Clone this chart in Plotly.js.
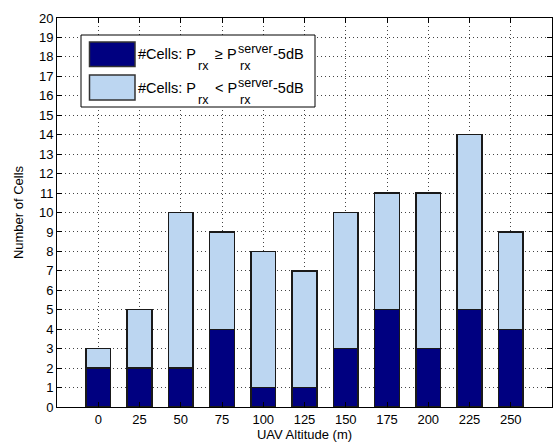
<!DOCTYPE html>
<html>
<head>
<meta charset="utf-8">
<script src="https://cdn.plot.ly/plotly-3.0.1.min.js"></script>
<style>html,body{margin:0;padding:0;background:#fff;}#chart{width:553px;height:448px;}</style>
</head>
<body>
<div id="chart"></div>
<script>
// Data
const altitudes = [0, 25, 50, 75, 100, 125, 150, 175, 200, 225, 250];
const strongCells = [2, 2, 2, 4, 1, 1, 3, 5, 3, 5, 4];       // Prx >= Prx_server - 5dB
const weakCells   = [1, 3, 8, 5, 7, 6, 7, 6, 8, 9, 5];       // Prx <  Prx_server - 5dB
const yTicks = [0,1,2,3,4,5,6,7,8,9,10,11,12,13,14,15,16,17,18,19,20];
const legendRelations = ['\u2265', '<'];

const W = 553, H = 448;
const M = {l: 57, r: 1, t: 18, b: 41};
const pw = W - M.l - M.r, ph = H - M.t - M.b;
const px = x => (x - M.l) / pw;
const py = y => (H - M.b - y) / ph;

const darkColor = '#000080';
const lightColor = '#bcd6f1';
const font = {family: 'Liberation Sans, Arial, sans-serif', size: 13, color: '#000'};
const lfont = {family: 'Liberation Sans, Arial, sans-serif', size: 14.5, color: '#000'};
const sfont = {family: 'Liberation Sans, Arial, sans-serif', size: 12.5, color: '#000'};

const traces = [
  {type: 'bar', x: altitudes, y: strongCells, width: 15, name: 'strong',
   marker: {color: darkColor, line: {color: '#1a1a1a', width: 1.3}}, showlegend: false, hoverinfo: 'skip'},
  {type: 'bar', x: altitudes, y: weakCells, width: 15, name: 'weak',
   marker: {color: lightColor, line: {color: '#1a1a1a', width: 1.3}}, showlegend: false, hoverinfo: 'skip'}
];

const shapes = [
  {type: 'rect', xref: 'paper', yref: 'paper', x0: px(81), x1: px(315), y0: py(35), y1: py(107),
   fillcolor: '#fff', line: {color: '#000', width: 1}, layer: 'above'},
  {type: 'rect', xref: 'paper', yref: 'paper', x0: px(89.5), x1: px(135), y0: py(42), y1: py(66.5),
   fillcolor: darkColor, line: {color: '#333', width: 1.5}, layer: 'above'},
  {type: 'rect', xref: 'paper', yref: 'paper', x0: px(89.5), x1: px(135), y0: py(75), y1: py(100),
   fillcolor: lightColor, line: {color: '#333', width: 1.5}, layer: 'above'}
];

const annotations = [];
function addText(text, x, y, f) {
  annotations.push({xref: 'paper', yref: 'paper', x: px(x), y: py(y), xanchor: 'left', yanchor: 'middle',
    text: text, showarrow: false, font: f, borderpad: 0});
}
legendRelations.forEach((rel, i) => {
  const dy = i * 33.5;
  addText('#Cells: P', 137, 54.5 + dy, lfont);
  addText('rx', 196.5, 66 + dy, sfont);
  addText(rel + ' P', 214, 54.5 + dy, lfont);
  addText('server', 237, 49 + dy, sfont);
  addText('rx', 239, 66 + dy, sfont);
  addText('-5dB', 272, 54.5 + dy, lfont);
});

const layout = {
  width: W, height: H,
  margin: M,
  paper_bgcolor: '#fff', plot_bgcolor: '#fff',
  barmode: 'stack',
  font: font,
  showlegend: false,
  xaxis: {
    range: [-25, 275], tickmode: 'array', tickvals: altitudes, ticktext: altitudes.map(String),
    ticks: 'inside', ticklen: 5, tickcolor: '#000', showline: true, linecolor: '#000', linewidth: 1,
    mirror: 'ticks', showgrid: true, gridcolor: '#444', griddash: '1px,3px', gridwidth: 1,
    zeroline: false, tickfont: font,
    title: {text: 'UAV Altitude (m)', font: font, standoff: 4}
  },
  yaxis: {
    range: [0, 20], tickmode: 'array', tickvals: yTicks, ticktext: yTicks.map(String),
    ticks: 'inside', ticklen: 5, tickcolor: '#000', showline: true, linecolor: '#000', linewidth: 1,
    mirror: 'ticks', showgrid: true, gridcolor: '#444', griddash: '1px,3px', gridwidth: 1,
    zeroline: false, tickfont: font,
    title: {text: 'Number of Cells', font: font, standoff: 12}
  },
  shapes: shapes,
  annotations: annotations
};

Plotly.newPlot('chart', traces, layout, {staticPlot: true, displayModeBar: false});
</script>
</body>
</html>
